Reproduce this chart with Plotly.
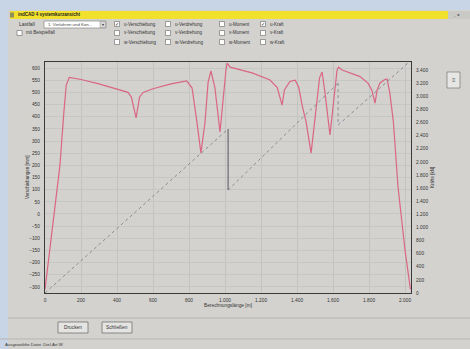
import plotly.graph_objects as go

# ---- data ----
dist_m = [0, 40, 83, 105, 118, 135, 200, 300, 400, 461, 480, 506, 525, 545, 600, 700, 787,
          817, 844, 866, 889, 906, 922, 944, 972, 989, 1005, 1012, 1028, 1150, 1250, 1290,
          1317, 1330, 1360, 1390, 1410, 1428, 1450, 1478, 1500, 1525, 1539, 1555, 1583, 1605,
          1622, 1630, 1650, 1750, 1794, 1815, 1833, 1845, 1860, 1885, 1900, 1915, 1935, 1961,
          2000, 2030]
verschiebung_mm = [-310, -60, 200, 420, 530, 562, 553, 535, 515, 500, 480, 395, 480, 500, 515,
                   535, 547, 518, 378, 250, 378, 542, 588, 518, 337, 477, 590, 620, 604, 580,
                   551, 520, 448, 510, 545, 550, 520, 448, 380, 250, 400, 560, 584, 500, 325,
                   480, 590, 604, 592, 565, 538, 510, 456, 510, 538, 552, 555, 500, 380, 110,
                   -150, -310]

# force: rising segments (start x, start F, end x, end F)
kraft_seg_x0 = [0, 1017, 1628]
kraft_seg_f0 = [0, 1570, 2560]
kraft_seg_x1 = [1017, 1628, 2020]
kraft_seg_f1 = [2500, 3200, 3515]

x_ticks = list(range(0, 2001, 200))
left_ticks = list(range(-300, 601, 50))
right_ticks = list(range(0, 3401, 200))

W, H = 470, 349
L, R, T, B = 45, 411, 62, 293
pw, ph = R - L, B - T


def px(x):
    return (x - L) / pw


def py(y):
    return (B - y) / ph


rise_x, rise_f = [], []
for i in range(len(kraft_seg_x0)):
    rise_x += [kraft_seg_x0[i], kraft_seg_x1[i], None]
    rise_f += [kraft_seg_f0[i], kraft_seg_f1[i], None]
    if i + 1 < len(kraft_seg_x0) and i > 0:
        rise_x += [kraft_seg_x1[i], kraft_seg_x0[i + 1], None]
        rise_f += [kraft_seg_f1[i], kraft_seg_f0[i + 1], None]
drop_x = [kraft_seg_x1[0], kraft_seg_x0[1]]
drop_f = [kraft_seg_f1[0], kraft_seg_f0[1]]

fig = go.Figure()
fig.add_trace(go.Scatter(x=rise_x, y=rise_f, yaxis="y2", mode="lines",
                         line=dict(color="#8c8c98", width=1, dash="dot"), hoverinfo="skip"))
fig.add_trace(go.Scatter(x=drop_x, y=drop_f, yaxis="y2", mode="lines",
                         line=dict(color="#55555c", width=1), hoverinfo="skip"))
fig.add_trace(go.Scatter(x=dist_m, y=verschiebung_mm, mode="lines",
                         line=dict(color="#da6682", width=1.2), hoverinfo="skip"))

shapes = []
ann = []
font = "Liberation Sans, Arial, sans-serif"


def rect(x0, y0, x1, y1, fill, line=None, lw=0):
    shapes.append(dict(type="rect", xref="paper", yref="paper", x0=px(x0), x1=px(x1),
                       y0=py(y0), y1=py(y1), fillcolor=fill,
                       line=dict(color=line or fill, width=lw), layer="below"))


def hline(x0, x1, y, color="#b0b0b0", w=1):
    shapes.append(dict(type="line", xref="paper", yref="paper", x0=px(x0), x1=px(x1),
                       y0=py(y), y1=py(y), line=dict(color=color, width=w)))


def text(x, y, s, size=5, color="#333", anchor="left", yanchor="middle", angle=0):
    ann.append(dict(xref="paper", yref="paper", x=px(x), y=py(y), text=s, showarrow=False,
                    xanchor=anchor, yanchor=yanchor, textangle=angle,
                    font=dict(size=size, color=color, family=font)))


# window chrome
rect(0, 0, W, 10, "#c8d5e6")
rect(0, 0, 8, H, "#c8d5e6")
rect(8, 10, W, H, "#d3d2cf")
rect(10, 11, 448, 19, "#f1e12c")
rect(448, 11, W, 19, "#c9c9c6")
text(16, 15, "<b>indCAD 4 systemkurzansicht</b>", size=4.5, color="#222")
text(456, 15, "<b>_ x</b>", size=4, color="#333", anchor="center")
rect(10, 12.5, 14, 17.5, "#8f8f5a")

# top controls
text(17, 24, "Lastfall", size=5)
rect(44, 21, 106, 28, "#ffffff", "#777", 0.6)
text(46, 24.5, "1. Verfahren und Kon...", size=4.3, color="#444")
rect(100, 21.5, 105.5, 27.5, "#d8d8d8", "#888", 0.5)
text(102.7, 24.5, "▾", size=4, anchor="center")
rect(17, 30.5, 22, 35.5, "#ffffff", "#666", 0.6)
text(24, 33, "mit Beispielfall", size=4.5)

cols = [(117, ["u-Verschiebung", "v-Verschiebung", "w-Verschiebung"], [True, False, False]),
        (168, ["u-Verdrehung", "v-Verdrehung", "w-Verdrehung"], [False, False, False]),
        (222, ["u-Moment", "v-Moment", "w-Moment"], [False, False, False]),
        (263, ["u-Kraft", "v-Kraft", "w-Kraft"], [True, False, False])]
rows = [24, 33, 42]
for cx, labels, checks in cols:
    for ry, lab, chk in zip(rows, labels, checks):
        rect(cx - 2.5, ry - 2.5, cx + 2.5, ry + 2.5, "#ffffff", "#666", 0.6)
        if chk:
            text(cx, ry, "✓", size=5, anchor="center", color="#222")
        text(cx + 5, ry, lab, size=4.5)

# right small button
rect(447, 72, 460, 88, "#e6e6e4", "#777", 0.7)
text(453.5, 80, "≡", size=6, anchor="center", color="#555")

# bottom controls
hline(8, W, 318, "#b5b5b5", 1)
rect(58, 322, 88, 333, "#e4e4e2", "#666", 0.7)
text(73, 327.5, "Drucken", size=4.8, anchor="center")
rect(102, 322, 132, 333, "#e4e4e2", "#666", 0.7)
text(117, 327.5, "Schließen", size=4.8, anchor="center")
hline(0, W, 339, "#b5b5b5", 1)
text(3, 344, "Ausgewählte Datei: Diel-Art.W", size=4.3)

# axis titles
text(27, 177, "Verschiebungen [mm]", size=4.5, anchor="center", angle=-90)
text(432, 178, "Kräfte [kN]", size=4.5, anchor="center", angle=-90)
text(228, 305, "Berechnungslänge [m]", size=4.8, anchor="center")

tickfont = dict(size=4.8, color="#333", family=font)
fig.update_layout(
    width=W, height=H,
    margin=dict(l=L, r=W - R, t=T, b=H - B),
    paper_bgcolor="#d3d2cf",
    plot_bgcolor="#d9d8d6",
    showlegend=False,
    separators=",.",
    shapes=shapes,
    annotations=ann,
    xaxis=dict(range=[0, 2033], tickvals=x_ticks, separatethousands=True, showgrid=True,
               gridcolor="#c3c3c1", gridwidth=1, zeroline=False, showline=True,
               linecolor="#3a3a3a", linewidth=1.2, mirror=True, ticks="", tickfont=tickfont,
               ticklabelstandoff=2),
    yaxis=dict(range=[-325, 625], tickvals=left_ticks, showgrid=True, gridcolor="#c6c6c4",
               gridwidth=1, zeroline=False, showline=True, linecolor="#3a3a3a", linewidth=1.2,
               ticks="", tickfont=tickfont, ticklabelstandoff=3),
    yaxis2=dict(range=[0, 3522], tickvals=right_ticks, overlaying="y", side="right",
                separatethousands=True, showgrid=False, zeroline=False, showline=True,
                linecolor="#3a3a3a", linewidth=1.2, ticks="", tickfont=tickfont,
                ticklabelstandoff=3),
)

fig.write_html("out.html", config={"displayModeBar": False},
               post_script="document.body.style.margin='0px';")
